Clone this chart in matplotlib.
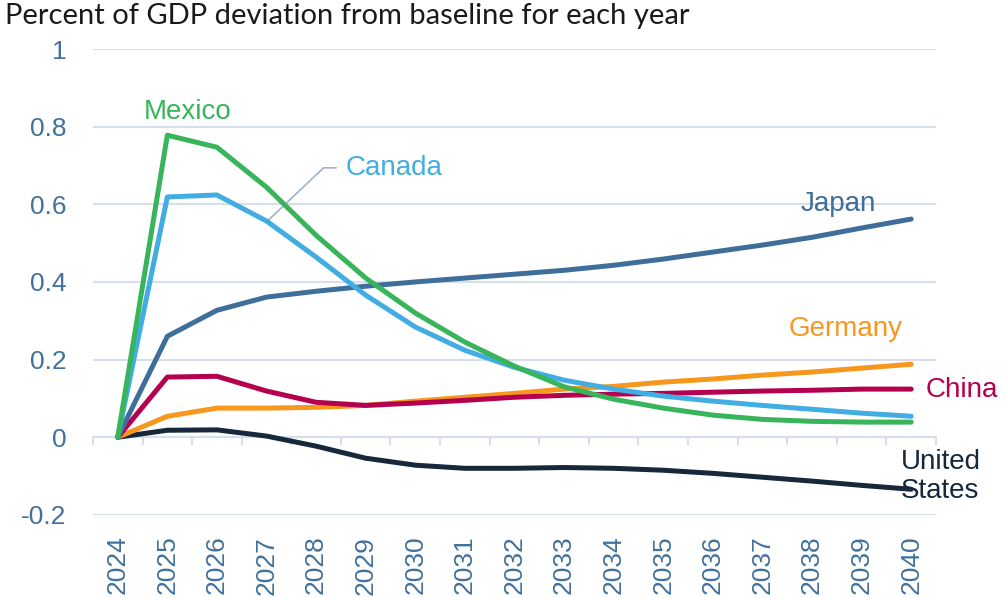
import numpy as np
import matplotlib.pyplot as plt

years = [str(y) for y in range(2024, 2041)]

mexico = [0, 0.778, 0.747, 0.644, 0.52, 0.41, 0.32, 0.245, 0.183, 0.13, 0.098,
          0.075, 0.057, 0.046, 0.041, 0.039, 0.039]
canada = [0, 0.619, 0.624, 0.557, 0.464, 0.366, 0.284, 0.224, 0.18, 0.147, 0.124,
          0.106, 0.093, 0.082, 0.072, 0.062, 0.054]
japan = [0, 0.26, 0.327, 0.361, 0.376, 0.389, 0.4, 0.41, 0.42, 0.43, 0.443,
         0.459, 0.477, 0.495, 0.515, 0.539, 0.562]
germany = [0, 0.054, 0.075, 0.075, 0.077, 0.082, 0.093, 0.103, 0.113, 0.124, 0.131,
           0.142, 0.15, 0.16, 0.168, 0.178, 0.188]
china = [0, 0.155, 0.157, 0.119, 0.09, 0.082, 0.088, 0.095, 0.103, 0.108, 0.111,
         0.113, 0.116, 0.119, 0.121, 0.124, 0.124]
united_states = [0, 0.018, 0.019, 0.003, -0.023, -0.054, -0.072, -0.08, -0.08, -0.078, -0.08,
                 -0.085, -0.093, -0.103, -0.113, -0.124, -0.134]

yticks = [-0.2, 0, 0.2, 0.4, 0.6, 0.8, 1]
ytick_labels = ['-0.2', '0', '0.2', '0.4', '0.6', '0.8', '1']

plt.rcParams['font.family'] = ['Liberation Sans', 'DejaVu Sans']

axis_blue = '#41719C'
grid_col = '#D5E0EC'

fig = plt.figure(figsize=(10.06, 5.98), dpi=100)
ax = fig.add_axes([0.0924, 0.139, 0.838, 0.779])

x = np.arange(len(years))
series = [
    (united_states, '#16283A'),
    (germany, '#F7971D'),
    (china, '#B5004F'),
    (japan, '#3E6E99'),
    (canada, '#41ADE3'),
    (mexico, '#38B45A'),
]
for vals, col in series:
    ax.plot(x, vals, color=col, lw=3.6, solid_capstyle='round', solid_joinstyle='round', zorder=3)

ax.set_xlim(-0.5, len(years) - 0.5)
ax.set_ylim(-0.2, 1)
ax.set_yticks(yticks)
ax.set_yticklabels(ytick_labels)
ax.grid(axis='y', color=grid_col, lw=1.5)
ax.set_axisbelow(True)
ax.set_xticks(x)
ax.set_xticklabels(years, rotation=90)
ax.tick_params(axis='x', length=0, pad=15, labelsize=19, labelcolor=axis_blue)
ax.tick_params(axis='y', length=0, pad=19, labelsize=19, labelcolor=axis_blue)
for s in ax.spines.values():
    s.set_visible(False)

# category boundary ticks on the zero line
zero_axis = ax.secondary_xaxis(1 / 6)
zero_axis.set_xticks(np.arange(-0.5, len(years)))
zero_axis.set_xticklabels([])
zero_axis.tick_params(length=6, width=1.5, color=grid_col, direction='out')
zero_axis.spines['bottom'].set_color(grid_col)
zero_axis.spines['bottom'].set_linewidth(1.5)

# series labels
ax.text(1.41, 0.838, 'Mexico', color='#38B45A', fontsize=20, ha='center', va='center')
ax.text(4.6, 0.693, 'Canada', color='#41ADE3', fontsize=20, ha='left', va='center')
ax.plot([3.02, 4.15, 4.4], [canada[3], 0.694, 0.694], color='#9DB4CC', lw=1.2, zorder=2)
ax.text(14.52, 0.6, 'Japan', color='#3E6E99', fontsize=20, ha='center', va='center')
ax.text(14.68, 0.278, 'Germany', color='#F7971D', fontsize=20, ha='center', va='center')
ax.text(16.3, 0.121, 'China', color='#B5004F', fontsize=20, ha='left', va='center', clip_on=False)
ax.text(15.79, -0.1, 'United\nStates', color='#16283A', fontsize=20, ha='left', va='center',
        linespacing=1.15, clip_on=False, zorder=4)

fig.text(0.005, 0.995, 'Percent of GDP deviation from baseline for each year', fontsize=21,
         family=['Lato', 'DejaVu Sans'], color='#1A1A1A', ha='left', va='top')

fig.savefig('out.png', dpi=100)
